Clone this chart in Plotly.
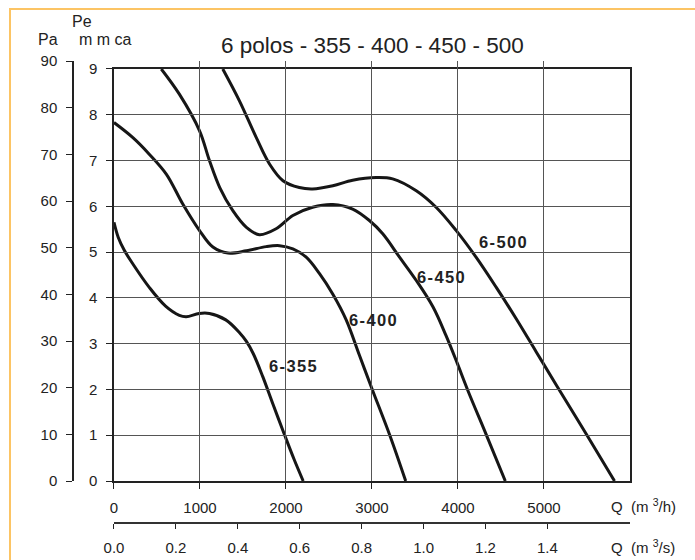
import plotly.graph_objects as go

# Caudal Q (m3/h) y presion estatica Pe (mm c.a.)
q_355 = [0, 50, 120, 220, 410, 600, 760, 840, 990, 1110, 1300, 1460, 1540, 1620, 1730, 1850, 1985, 2095, 2200]
p_355 = [5.65, 5.32, 5.04, 4.74, 4.23, 3.82, 3.62, 3.59, 3.66, 3.66, 3.52, 3.24, 3.05, 2.78, 2.28, 1.67, 1.0, 0.47, 0.0]

q_400 = [0, 220, 410, 610, 800, 995, 1150, 1325, 1540, 1770, 1925, 2080, 2235, 2390, 2545, 2700, 2855, 3003, 3207, 3392]
p_400 = [7.83, 7.50, 7.14, 6.70, 6.05, 5.47, 5.11, 4.98, 5.03, 5.12, 5.14, 5.07, 4.89, 4.53, 4.08, 3.52, 2.74, 2.0, 1.0, 0.0]

q_450 = [550, 760, 995, 1110, 1230, 1380, 1540, 1690, 1885, 2080, 2310, 2545, 2775, 2970, 3125, 3320, 3515, 3710, 3860, 3990, 4110, 4340, 4550]
p_450 = [9.0, 8.45, 7.65, 7.0, 6.41, 5.91, 5.54, 5.38, 5.51, 5.80, 5.98, 6.04, 5.94, 5.69, 5.40, 4.89, 4.38, 3.80, 3.18, 2.58, 2.0, 0.96, 0.0]

q_500 = [1265, 1460, 1655, 1810, 1965, 2155, 2310, 2545, 2775, 3050, 3240, 3515, 3745, 3980, 4210, 4445, 4675, 4910, 5155, 5500, 5820]
p_500 = [9.0, 8.30, 7.50, 6.92, 6.56, 6.41, 6.38, 6.45, 6.57, 6.63, 6.60, 6.34, 5.98, 5.47, 4.89, 4.23, 3.55, 2.82, 2.06, 1.0, 0.0]

curvas = [
    ("6-355", q_355, p_355),
    ("6-400", q_400, p_400),
    ("6-450", q_450, p_450),
    ("6-500", q_500, p_500),
]

# posicion de las etiquetas de cada curva (Q, Pe)
etiquetas = ["6-355", "6-400", "6-450", "6-500"]
etiqueta_q = [2081, 3017, 3802, 4523]
etiqueta_p = [2.51, 3.52, 4.45, 5.22]

q_ticks = [0, 1000, 2000, 3000, 4000, 5000]
mmca_ticks = [0, 1, 2, 3, 4, 5, 6, 7, 8, 9]
pa_ticks = [0, 10, 20, 30, 40, 50, 60, 70, 80, 90]
qs_ticks = [0.0, 0.2, 0.4, 0.6, 0.8, 1.0, 1.2, 1.4]

FONT = "Liberation Sans, Arial, sans-serif"
TXT = "#222222"
HAIR = "\u200a"

fig = go.Figure()

for nombre, q, p in curvas:
    fig.add_trace(
        go.Scatter(
            x=q,
            y=p,
            mode="lines",
            name=nombre,
            line=dict(color="#161616", width=3, shape="spline", smoothing=1.0),
            showlegend=False,
            hoverinfo="skip",
        )
    )

# trazas invisibles para que se dibujen los ejes Pa y m3/s
fig.add_trace(go.Scatter(x=[0], y=[0], yaxis="y2", mode="markers",
                         marker=dict(opacity=0), showlegend=False, hoverinfo="skip"))
fig.add_trace(go.Scatter(x=[0], y=[0], xaxis="x2", mode="markers",
                         marker=dict(opacity=0), showlegend=False, hoverinfo="skip"))

for texto, q, p in zip(etiquetas, etiqueta_q, etiqueta_p):
    fig.add_annotation(
        x=q, y=p, text=HAIR.join(texto), showarrow=False,
        font=dict(family=FONT, size=16.5, color=TXT, weight="bold"),
    )

tick_font = dict(family=FONT, size=15, color=TXT)

# la ventana deja 8 px menos de alto a la figura, por eso 568
fig.update_layout(
    width=695,
    height=568,
    margin=dict(l=60, r=65, t=61, b=37),
    paper_bgcolor="#FFFFFF",
    plot_bgcolor="rgba(0,0,0,0)",
    font=dict(family=FONT, color=TXT),
    xaxis=dict(
        range=[0, 6000],
        domain=[0.0947, 1],
        tickvals=q_ticks,
        ticks="outside",
        ticklen=6,
        tickcolor="#222",
        ticklabelstandoff=6,
        tickfont=tick_font,
        showline=True,
        linecolor="#222",
        linewidth=1.5,
        mirror=True,
        showgrid=True,
        gridcolor="#555",
        gridwidth=1,
        zeroline=False,
        anchor="y",
    ),
    yaxis=dict(
        range=[0, 9],
        domain=[0.0909, 0.9827],
        tickvals=mmca_ticks,
        ticks="outside",
        ticklen=6,
        tickcolor="#222",
        ticklabelstandoff=6,
        tickfont=tick_font,
        showline=True,
        linecolor="#222",
        linewidth=1.5,
        mirror=True,
        showgrid=True,
        gridcolor="#555",
        gridwidth=1,
        zeroline=False,
        anchor="x",
    ),
    yaxis2=dict(
        range=[0, 90],
        domain=[0.0909, 1],
        anchor="free",
        position=0.0228,
        side="left",
        tickvals=pa_ticks,
        ticks="outside",
        ticklen=6,
        tickcolor="#222",
        ticklabelstandoff=6,
        tickfont=tick_font,
        showline=True,
        linecolor="#222",
        linewidth=1.5,
        showgrid=False,
        zeroline=False,
    ),
    xaxis2=dict(
        range=[0, 6000 / 3600],
        domain=[0.0947, 1],
        anchor="free",
        position=0,
        side="bottom",
        tickvals=qs_ticks,
        ticktext=[f"{v:.1f}" for v in qs_ticks],
        ticks="outside",
        ticklen=5,
        tickcolor="#222",
        ticklabelstandoff=6,
        tickfont=tick_font,
        showline=True,
        linecolor="#333",
        linewidth=1.5,
        showgrid=False,
        zeroline=False,
    ),
)

# textos de titulo y ejes
anot = [
    ("6 polos - 355 - 400 - 450 - 500", 0.5491, 1.0325, "center", 22.5),
    ("Pe", 0.0386, 1.0845, "center", 16),
    ("Pa", -0.0211, 1.0456, "center", 16),
    ("m m ca", 0.0807, 1.0456, "center", 16),
    ("Q  (m <sup>3</sup>/h)", 0.9632, 0.0368, "left", 15),
    ("Q  (m <sup>3</sup>/s)", 0.9632, -0.0519, "left", 15),
]
for texto, x, y, xa, size in anot:
    fig.add_annotation(
        x=x, y=y, xref="paper", yref="paper", text=texto, showarrow=False,
        xanchor=xa, yanchor="middle", font=dict(family=FONT, size=size, color=TXT),
    )

# marco naranja de la ficha
fig.add_shape(
    type="rect", xref="paper", yref="paper",
    x0=-0.0877, x1=1.2, y0=-0.2, y1=1.1126,
    line=dict(color="#FCC464", width=2), fillcolor="rgba(0,0,0,0)", layer="below",
)

# sin margen del body para que la figura ocupe la ventana exacta
fig.write_html(
    "out.html",
    config={"responsive": False, "displayModeBar": False},
    post_script="document.body.style.margin='0px';",
)
